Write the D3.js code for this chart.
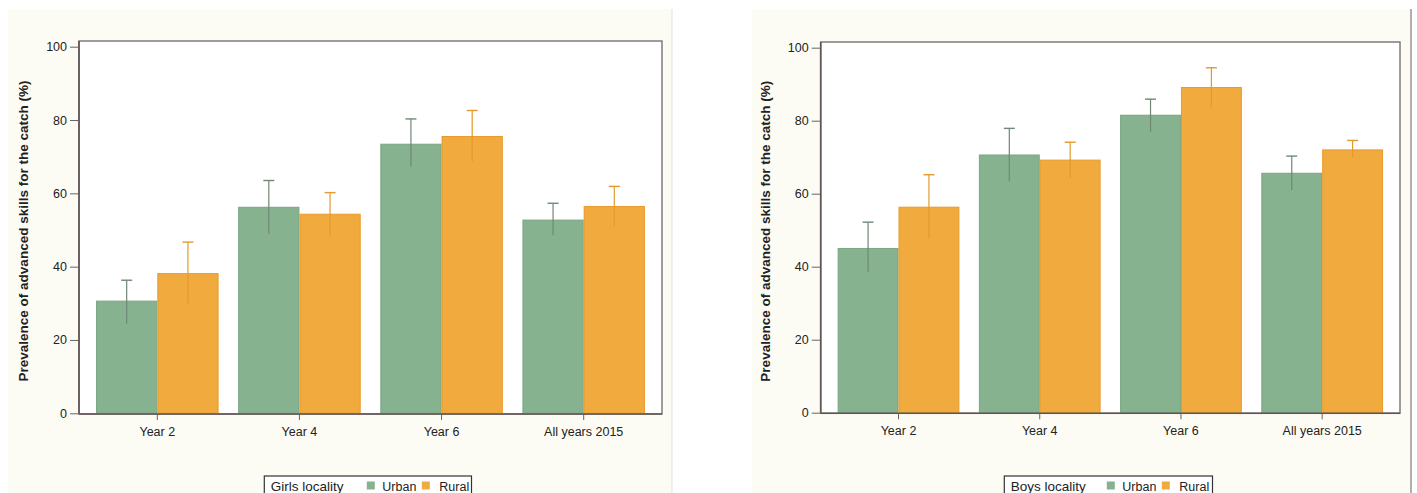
<!DOCTYPE html>
<html>
<head>
<meta charset="utf-8">
<script src="https://cdn.jsdelivr.net/npm/d3@7/dist/d3.min.js"></script>
<style>
  html, body { margin: 0; padding: 0; background: #ffffff; }
  svg { display: block; }
  text { font-family: "Liberation Sans", Arial, sans-serif; fill: #222; }
</style>
</head>
<body>
<svg id="chart" width="1417" height="493"></svg>
<script>
// ---- data ----
const categories = ["Year 2", "Year 4", "Year 6", "All years 2015"];
const seriesNames = ["Urban", "Rural"];
const yTicks = [0, 20, 40, 60, 80, 100];

const girlsUrban   = [30.6, 56.2, 73.4, 52.7];
const girlsUrbanLo = [24.5, 48.9, 67.3, 48.6];
const girlsUrbanHi = [36.3, 63.5, 80.3, 57.3];
const girlsRural   = [38.1, 54.3, 75.5, 56.4];
const girlsRuralLo = [30.0, 48.6, 68.6, 50.9];
const girlsRuralHi = [46.7, 60.2, 82.6, 61.9];

const boysUrban   = [45.0, 70.6, 81.5, 65.6];
const boysUrbanLo = [38.6, 63.4, 77.0, 61.0];
const boysUrbanHi = [52.2, 77.9, 85.9, 70.3];
const boysRural   = [56.3, 69.2, 89.1, 72.0];
const boysRuralLo = [47.8, 64.3, 83.7, 70.0];
const boysRuralHi = [65.2, 74.1, 94.5, 74.6];

const yTitle = "Prevalence of advanced skills for the catch (%)";

// ---- styles ----
const fills = { Urban: "#86b28f", Rural: "#f1aa3e" };
const strokes = { Urban: "#7aa583", Rural: "#e99a2a" };
const errColors = { Urban: "#6f8875", Rural: "#e39a2e" };

const svg = d3.select("#chart");

function panel(cfg) {
  const g = svg.append("g");
  // background
  g.append("rect").attr("x", cfg.bg[0]).attr("y", cfg.bg[1])
    .attr("width", cfg.bg[2] - cfg.bg[0]).attr("height", cfg.bg[3] - cfg.bg[1])
    .attr("fill", "#fdfcf4");
  g.append("line").attr("x1", cfg.bg[2]).attr("x2", cfg.bg[2])
    .attr("y1", cfg.bg[1]).attr("y2", cfg.bg[3])
    .attr("stroke", cfg.edgeColor).attr("stroke-width", cfg.edgeWidth);

  const x = d3.scaleBand().domain(categories).range([cfg.left, cfg.right])
    .paddingInner(0.138).paddingOuter(0.12);
  const xs = d3.scaleBand().domain(seriesNames).range([0, x.bandwidth()]).padding(0);
  const y = d3.scaleLinear().domain([0, 100]).range([cfg.y0, cfg.y100]);

  // plot area
  g.append("rect").attr("x", cfg.left).attr("y", cfg.top)
    .attr("width", cfg.right - cfg.left).attr("height", cfg.bottom - cfg.top)
    .attr("fill", "#ffffff").attr("stroke", "#847a7a").attr("stroke-width", 1.5);

  const rows = categories.map((c, i) => ({
    cat: c,
    vals: [
      { s: "Urban", v: cfg.urban[i], lo: cfg.urbanLo[i], hi: cfg.urbanHi[i] },
      { s: "Rural", v: cfg.rural[i], lo: cfg.ruralLo[i], hi: cfg.ruralHi[i] }
    ]
  }));

  const groups = g.selectAll("g.grp").data(rows).enter().append("g")
    .attr("class", "grp")
    .attr("transform", d => `translate(${x(d.cat)},0)`);

  groups.selectAll("rect").data(d => d.vals).enter().append("rect")
    .attr("x", d => xs(d.s) + 0.5)
    .attr("width", xs.bandwidth() - 1)
    .attr("y", d => y(d.v))
    .attr("height", d => y(0) - y(d.v))
    .attr("fill", d => fills[d.s])
    .attr("stroke", d => strokes[d.s])
    .attr("stroke-width", 1);

  // error bars
  groups.selectAll("line.err").data(d => d.vals).enter().append("line")
    .attr("class", "err")
    .attr("x1", d => xs(d.s) + xs.bandwidth() / 2)
    .attr("x2", d => xs(d.s) + xs.bandwidth() / 2)
    .attr("y1", d => y(d.lo)).attr("y2", d => y(d.hi))
    .attr("stroke", d => errColors[d.s]).attr("stroke-width", 1.2);
  groups.selectAll("line.cap").data(d => d.vals).enter().append("line")
    .attr("class", "cap")
    .attr("x1", d => xs(d.s) + xs.bandwidth() / 2 - 5.5)
    .attr("x2", d => xs(d.s) + xs.bandwidth() / 2 + 5.5)
    .attr("y1", d => y(d.hi)).attr("y2", d => y(d.hi))
    .attr("stroke", d => errColors[d.s]).attr("stroke-width", 1.4);

  // y axis
  const yAxis = d3.axisLeft(y).tickValues(yTicks).tickSize(9).tickPadding(3);
  const ya = g.append("g").attr("transform", `translate(${cfg.left},0)`).call(yAxis);
  ya.select(".domain").attr("stroke", "#5e5454").attr("stroke-width", 1.6)
    .attr("d", `M0,${cfg.top}V${cfg.bottom}`);
  ya.selectAll(".tick line").attr("stroke", "#6b6262");
  ya.selectAll(".tick text").attr("font-size", "12.5px").attr("fill", "#222")
    .style("font-family", "'Liberation Sans', Arial, sans-serif");

  // x axis
  const xAxis = d3.axisBottom(x).tickSize(6).tickPadding(7);
  const xa = g.append("g").attr("transform", `translate(0,${cfg.bottom})`).call(xAxis);
  xa.select(".domain").attr("stroke", "#5e5454").attr("stroke-width", 1.6)
    .attr("d", `M${cfg.left},0H${cfg.right}`);
  xa.selectAll(".tick line").attr("stroke", "#6b6262");
  xa.selectAll(".tick text").attr("font-size", "12.5px").attr("fill", "#222")
    .style("font-family", "'Liberation Sans', Arial, sans-serif");

  // y title
  g.append("text")
    .attr("transform", `translate(${cfg.titleX},${(cfg.y0 + cfg.y100) / 2 + 1}) rotate(-90)`)
    .attr("text-anchor", "middle")
    .attr("font-size", "13.5px").attr("font-weight", "bold")
    .text(yTitle);

  // legend
  const lg = g.append("g");
  lg.append("rect").attr("x", cfg.legend[0]).attr("y", 476)
    .attr("width", cfg.legend[1] - cfg.legend[0]).attr("height", 22)
    .attr("fill", "#ffffff").attr("stroke", "#333").attr("stroke-width", 1.2);
  lg.append("text").attr("x", cfg.legend[0] + 6.5).attr("y", 491)
    .attr("font-size", "13.5px").text(cfg.legendTitle);
  const items = [
    { s: "Urban", sq: cfg.legend[0] + 102.5, tx: cfg.legend[0] + 118 },
    { s: "Rural", sq: cfg.legend[0] + 157.5, tx: cfg.legend[0] + 175 }
  ];
  items.forEach(it => {
    lg.append("rect").attr("x", it.sq).attr("y", 481.5).attr("width", 8).attr("height", 8)
      .attr("fill", fills[it.s]);
    lg.append("text").attr("x", it.tx).attr("y", 491).attr("font-size", "12.5px").text(it.s);
  });
}

panel({
  bg: [8, 9, 672, 493], edgeColor: "#e4e1d8", edgeWidth: 1,
  left: 79, right: 662, top: 41, bottom: 414, y0: 413.3, y100: 46.7,
  titleX: 27.5,
  urban: girlsUrban, urbanLo: girlsUrbanLo, urbanHi: girlsUrbanHi,
  rural: girlsRural, ruralLo: girlsRuralLo, ruralHi: girlsRuralHi,
  legend: [264.3, 471.5], legendTitle: "Girls locality"
});

panel({
  bg: [752, 9, 1411, 493], edgeColor: "#9a9494", edgeWidth: 1.5,
  left: 820.7, right: 1400, top: 42, bottom: 413.3, y0: 412.7, y100: 47.7,
  titleX: 770,
  urban: boysUrban, urbanLo: boysUrbanLo, urbanHi: boysUrbanHi,
  rural: boysRural, ruralLo: boysRuralLo, ruralHi: boysRuralHi,
  legend: [1004.3, 1212.5], legendTitle: "Boys locality"
});
</script>
</body>
</html>
